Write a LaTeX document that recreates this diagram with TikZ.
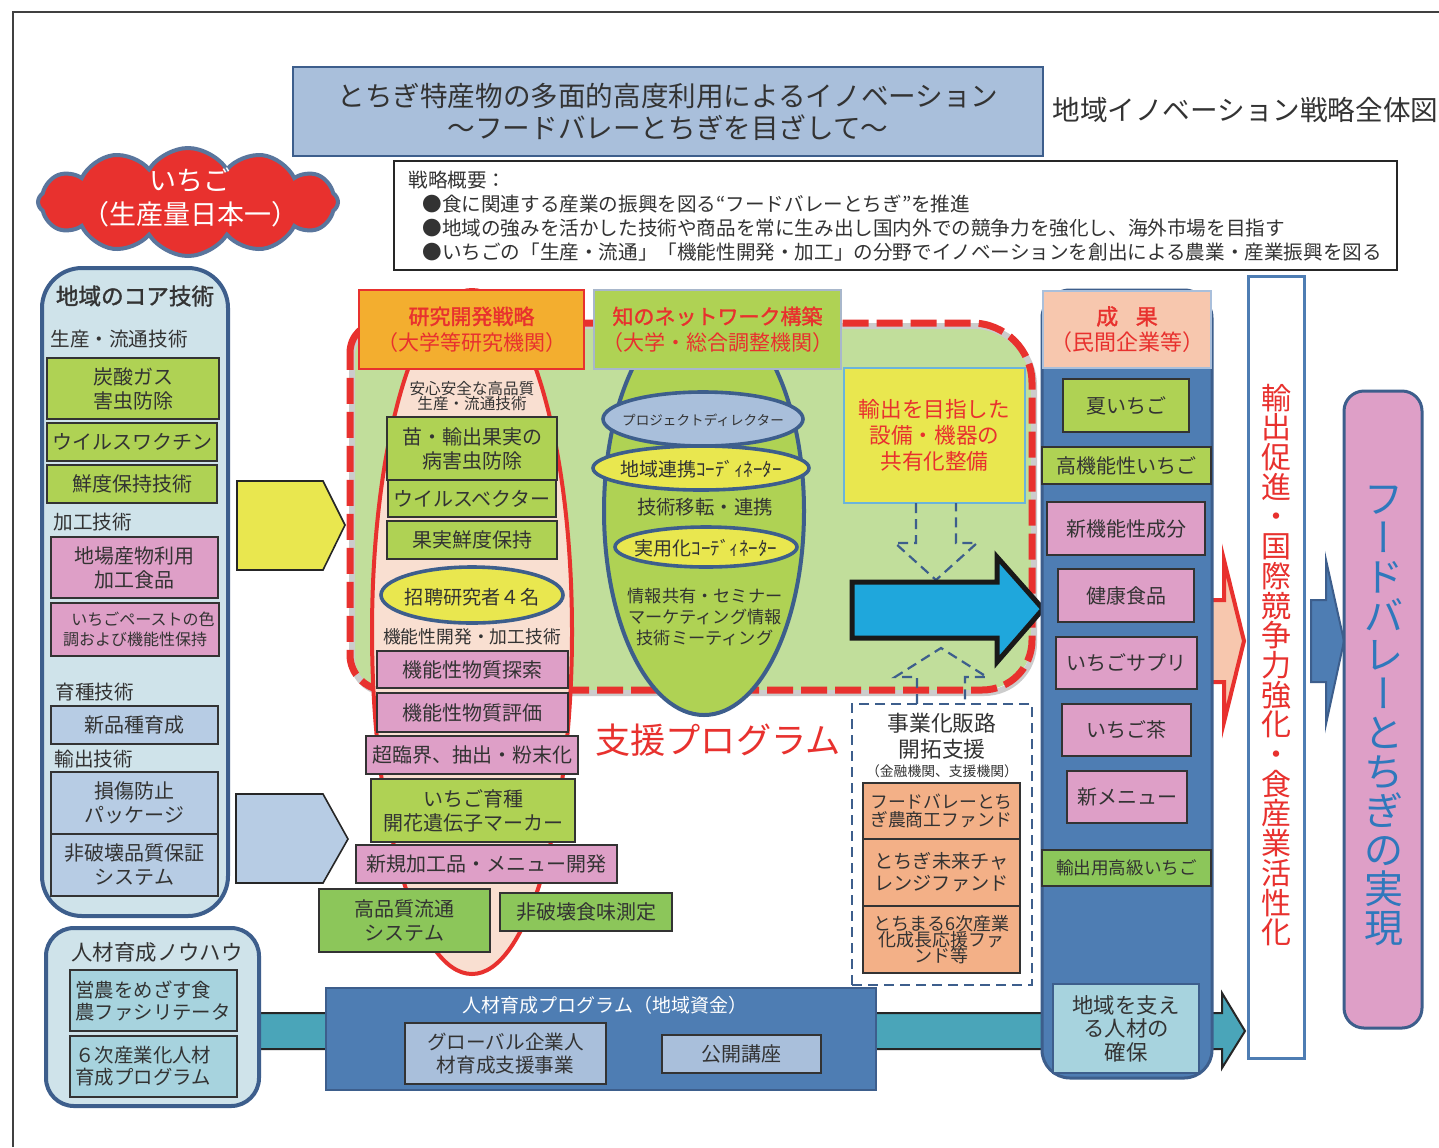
\documentclass[tikz,border=0pt]{standalone}
\usepackage{fontspec}
\setmainfont{Noto Sans CJK JP}[AutoFakeBold=1.5]
\newfontfamily\jpv{Noto Sans CJK JP}[RawFeature=+vert]
\usetikzlibrary{shapes.geometric,shapes.symbols,fit}
\newcommand\myfs[2]{\fontsize{#1}{#2}\selectfont}
\lineskiplimit=-20pt
\definecolor{dkblue}{HTML}{3D5E8C}
\definecolor{titleblue}{HTML}{A9BFDB}
\definecolor{cloudred}{HTML}{E8312E}
\definecolor{panel}{HTML}{CFE3EA}
\definecolor{lime}{HTML}{AFD254}
\definecolor{pinkc}{HTML}{DE9FC7}
\definecolor{lblue}{HTML}{B7CCE4}
\definecolor{tealL}{HTML}{A7D3DE}
\definecolor{tealB}{HTML}{4AA5B9}
\definecolor{progblue}{HTML}{4E7DB3}
\definecolor{yel}{HTML}{E9E74F}
\definecolor{orng}{HTML}{F3AE2F}
\definecolor{peach}{HTML}{F9DFD1}
\definecolor{regiong}{HTML}{C1DE9B}
\definecolor{cyanA}{HTML}{1FA7DC}
\definecolor{headpeach}{HTML}{F7C7AE}
\definecolor{salmon}{HTML}{F3B087}
\definecolor{dkgreen}{HTML}{8CC65A}
\definecolor{finalblue}{HTML}{2F78BC}
\definecolor{txtc}{HTML}{333333}
\tikzset{
 bx/.style={draw=black!80, line width=0.9pt, inner sep=0pt},
 lab/.style={inner sep=0pt, anchor=west, text=txtc, font=\myfs{9.8}{12}},
 txt/.style={inner sep=0pt, align=center, text=txtc, font=\myfs{10}{12}},
 elly/.style={ellipse, draw=dkblue, line width=1.8pt, inner sep=0pt},
 dasharrow/.style={draw=dkblue, line width=1.1pt, dash pattern=on 5pt off 3pt},
}
% #1 box options, #2 name, #3 fit points, #4 text options, #5 text
\newcommand\tbox[5]{%
  \node[bx,#1,fit={#3}] (#2) {};
  \node[txt,#4] (#2t) at (#2.center) {#5};}
\begin{document}
\begin{tikzpicture}[x=0.5pt,y=-0.5pt]
\useasboundingbox (0,0) rectangle (1439,1147);
\fill[white] (0,0) rectangle (1439,1147);
\draw[line width=0.8pt, black!75] (13,1147) -- (13,12) -- (1439,12);

% title
\tbox{draw=dkblue, line width=0.8pt, fill=titleblue}{title}{(293,67)(1043,156)}{font=\myfs{13.8}{16}}{とちぎ特産物の多面的高度利用によるイノベーション\\～フードバレーとちぎを目ざして～}
\node[txt, anchor=west, font=\myfs{13.8}{16}] (subtitle) at (1052,110) {地域イノベーション戦略全体図};

% strategy
\node[draw=black!85, line width=1pt, inner sep=0pt, fit={(394,161)(1397,270)}] (strat) {};
\node[txt, anchor=north west, align=left, font=\myfs{9.8}{11.85}] (strattext) at (408,171) {戦略概要：\\\hspace*{7pt}●食に関連する産業の振興を図る“フードバレーとちぎ”を推進\\\hspace*{7pt}●地域の強みを活かした技術や商品を常に生み出し国内外での競争力を強化し、海外市場を目指す\\\hspace*{7pt}●いちごの「生産・流通」「機能性開発・加工」の分野でイノベーションを創出による農業・産業振興を図る};

% cloud
\node[cloud, cloud puffs=12, cloud puff arc=115, aspect=2.7, draw=dkblue!85, line width=2pt, fill=cloudred, minimum width=150pt, minimum height=54pt, inner sep=0pt] (cloud) at (188,202) {};
\node[txt, text=white, font=\myfs{13.5}{17}] (cloudtxt) at (190,197) {いちご\\（生産量日本一）};

% teal band
\draw[fill=tealB, draw=black!85, line width=1pt] (250,1013) -- (1222,1013) -- (1222,993) -- (1245,1031) -- (1222,1068) -- (1222,1049) -- (250,1049) -- cycle;

% left core panel
\node[draw=dkblue, line width=2pt, fill=panel, rounded corners=20pt, inner sep=0pt, fit={(42,268)(228,916)}] (core) {};
\node[txt, font=\myfs{11.3}{13}\bfseries] (coret) at (135,296) {地域のコア技術};
\node[lab] (lprod) at (50,339) {生産・流通技術};
\tbox{fill=lime}{c1}{(47,358)(219,419)}{}{炭酸ガス\\害虫防除}
\tbox{fill=lime}{c2}{(47,423)(217,461)}{}{ウイルスワクチン}
\tbox{fill=lime}{c3}{(47,465)(217,503)}{}{鮮度保持技術}
\node[lab] (lproc) at (53,522) {加工技術};
\tbox{fill=pinkc}{c4}{(51,537)(218,598)}{}{地場産物利用\\加工食品}
\tbox{fill=pinkc}{c5}{(51,603)(219,656)}{font=\myfs{8}{10}}{\hspace*{8pt}いちごペーストの色\\調および機能性保持}
\node[lab] (lbreed) at (55,692) {育種技術};
\tbox{fill=lblue}{c6}{(51,706)(218,744)}{}{新品種育成}
\node[lab] (lexp) at (54,759) {輸出技術};
\tbox{fill=lblue}{c7}{(51,772)(218,834)}{}{損傷防止\\パッケージ}
\tbox{fill=lblue}{c8}{(51,834)(218,896)}{}{非破壊品質保証\\システム}

% pentagons
\draw[black!85, line width=0.8pt, fill=yel] (237,481) -- (323,481) -- (345,525) -- (323,570) -- (237,570) -- cycle;
\draw[black!85, line width=0.8pt, fill=lblue] (236,794) -- (323,794) -- (348,839) -- (323,883) -- (236,883) -- cycle;

% HR panel
\node[draw=dkblue, line width=2pt, fill=panel, rounded corners=14pt, inner sep=0pt, fit={(46,928)(259,1106)}] (hr) {};
\node[txt, font=\myfs{10.7}{13}] (hrt) at (157,952) {人材育成ノウハウ};
\tbox{fill=tealL}{h1}{(70,970)(237,1031)}{text width=78pt, align=left, font=\myfs{9.7}{11}}{営農をめざす食\\農ファシリテータ}
\tbox{fill=tealL}{h2}{(70,1036)(237,1097)}{text width=78pt, align=left, font=\myfs{9.7}{11}}{６次産業化人材\\育成プログラム}

% support program region
\fill[regiong] (350,353) .. controls (350,336) and (363,323) .. (380,323) -- (972,323) .. controls (1005,323) and (1032,350) .. (1032,383) -- (1032,640) .. controls (1032,668) and (1010,690) .. (982,690) -- (385,690) .. controls (366,690) and (350,674) .. (350,655) -- cycle;
\draw[gray!40, line width=3pt, shift={(2,3)}] (350,353) .. controls (350,336) and (363,323) .. (380,323) -- (972,323) .. controls (1005,323) and (1032,350) .. (1032,383) -- (1032,640) .. controls (1032,668) and (1010,690) .. (982,690) -- (385,690) .. controls (366,690) and (350,674) .. (350,655) -- cycle;
\draw[cloudred, line width=3.5pt, dash pattern=on 13pt off 4pt] (350,353) .. controls (350,336) and (363,323) .. (380,323) -- (972,323) .. controls (1005,323) and (1032,350) .. (1032,383) -- (1032,640) .. controls (1032,668) and (1010,690) .. (982,690) -- (385,690) .. controls (366,690) and (350,674) .. (350,655) -- cycle;

% big ellipses
\node[ellipse, draw=cloudred, line width=2pt, fill=peach, minimum width=100pt, minimum height=342pt, inner sep=0pt] (rell) at (472,632) {};
\node[ellipse, draw=dkblue, line width=2pt, fill=lime, minimum width=100pt, minimum height=204pt, inner sep=0pt] (nell) at (704,511) {};

% header boxes
\tbox{draw=cloudred, line width=1pt, fill=orng}{rd}{(359,290)(584,369)}{text=cloudred, font=\myfs{10.5}{13}}{\textbf{研究開発戦略}\\（大学等研究機関）}
\tbox{draw=dkblue!45, line width=1pt, fill=lime}{net}{(594,290)(841,369)}{text=cloudred, font=\myfs{10.5}{13}}{\textbf{知のネットワーク構築}\\（大学・総合調整機関）}

% network contents
\node[elly, fill=titleblue, minimum width=100pt, minimum height=27pt] (pd) at (703,419) {};
\node[txt, font=\myfs{6.8}{8}] (pdt) at (703,420) {プロジェクトディレクター};
\node[elly, fill=yel, minimum width=108pt, minimum height=22pt] (rc) at (701,468) {};
\node[txt, font=\myfs{9.5}{11}] (rct) at (701,469) {地域連携ｺｰﾃﾞｨﾈｰﾀｰ};
\node[txt, font=\myfs{9.7}{12}] (tt) at (705,507) {技術移転・連携};
\node[elly, fill=yel, minimum width=91pt, minimum height=20pt] (jc) at (706,547) {};
\node[txt, font=\myfs{9.5}{11}] (jct) at (706,548) {実用化ｺｰﾃﾞｨﾈｰﾀｰ};
\node[txt, font=\myfs{8.6}{10.5}] (info) at (705,617) {情報共有・セミナー\\マーケティング情報\\技術ミーティング};

% research contents
\node[txt, font=\myfs{7.8}{7.5}] (rtop) at (472,396) {安心安全な高品質\\生産・流通技術};
\tbox{fill=lime}{r1}{(387,417)(557,480)}{}{苗・輸出果実の\\病害虫防除}
\tbox{fill=lime}{r2}{(388,480)(556,517)}{}{ウイルスベクター}
\tbox{fill=lime}{r3}{(387,521)(557,559)}{}{果実鮮度保持}
\node[elly, fill=yel, minimum width=91pt, minimum height=28pt] (inv) at (472,595) {};
\node[txt, font=\myfs{9.6}{11}] (invt) at (472,597) {招聘研究者４名};
\node[txt, font=\myfs{8.9}{10}] (rfun) at (472,637) {機能性開発・加工技術};
\tbox{fill=pinkc}{r4}{(377,651)(568,688)}{}{機能性物質探索}
\tbox{fill=pinkc}{r5}{(377,693)(568,732)}{}{機能性物質評価}
\tbox{fill=pinkc}{r6}{(366,736)(578,774)}{}{超臨界、抽出・粉末化}
\tbox{fill=lime}{r7}{(371,779)(575,842)}{}{いちご育種\\開花遺伝子マーカー}
\tbox{fill=pinkc}{r8}{(356,845)(617,883)}{}{新規加工品・メニュー開発}
\tbox{fill=dkgreen}{r9}{(319,889)(490,952)}{}{高品質流通\\システム}
\tbox{fill=dkgreen}{r10}{(500,893)(672,931)}{}{非破壊食味測定}

\node[txt, text=cloudred, font=\myfs{17.6}{20}] (shien) at (718,740) {支援プログラム};

% yellow box
\tbox{draw=cyanA!45!titleblue, line width=1pt, fill=yel}{ybox}{(844,368)(1025,503)}{text=cloudred, font=\myfs{10.8}{13}}{輸出を目指した\\設備・機器の\\共有化整備}

% dashed hollow arrows
\draw[dasharrow] (916,503) -- (916,543) -- (895,543) -- (936,580) -- (977,543) -- (956,543) -- (956,503);
\draw[dasharrow] (917,704) -- (917,677) -- (895,677) -- (941,648) -- (987,677) -- (965,677) -- (965,704);

% big blue arrow
\draw[fill=cyanA, draw=black!90, line width=2.5pt] (852,582) -- (997,582) -- (997,557) -- (1043,609) -- (997,662) -- (997,638) -- (852,638) -- cycle;

% business support box
\node[draw=dkblue, line width=1.1pt, dash pattern=on 5pt off 3pt, fill=white, inner sep=0pt, fit={(852,704)(1032,985)}] (biz) {};
\node[txt, font=\myfs{10.9}{13}] (bizt) at (942,736) {事業化販路\\開拓支援};
\node[txt, font=\myfs{6.9}{8}] (bizs) at (942,771) {（金融機関、支援機関）};
\tbox{fill=salmon}{f1}{(863,783)(1020,839)}{font=\myfs{8.9}{9}}{フードバレーとち\\ぎ農商工ファンド}
\tbox{fill=salmon}{f2}{(863,839)(1020,906)}{font=\myfs{9.6}{11}}{とちぎ未来チャ\\レンジファンド}
\tbox{fill=salmon}{f3}{(863,906)(1020,973)}{font=\myfs{9}{8}}{とちまる6次産業\\化成長応援ファ\\ンド等}

% program box
\node[draw=dkblue, line width=1.2pt, fill=progblue, inner sep=0pt, fit={(326,988)(876,1090)}] (prog) {};
\node[txt, text=white, font=\myfs{9.5}{12}] (progt) at (605,1005) {人材育成プログラム（地域資金）};
\tbox{fill=titleblue}{p1}{(405,1023)(606,1084)}{font=\myfs{9.8}{11.5}}{グローバル企業人\\材育成支援事業}
\tbox{fill=titleblue}{p2}{(662,1035)(821,1073)}{}{公開講座}

% red hollow arrow
\draw[fill=headpeach, draw=cloudred, line width=2pt] (1200,600) -- (1224,600) -- (1224,560) -- (1244,641) -- (1224,722) -- (1224,682) -- (1200,682) -- cycle;

% result column
\node[draw=dkblue, line width=1.5pt, fill=progblue, rounded corners=14pt, inner sep=0pt, fit={(1042,290)(1212,1078)}] (res) {};
\tbox{draw=titleblue, line width=1pt, fill=headpeach}{reshead}{(1043,291)(1211,368)}{text=cloudred, font=\myfs{11}{13}}{\textbf{成\hspace{0.8em}果}\\（民間企業等）}
\tbox{fill=lime}{o1}{(1063,379)(1189,432)}{}{夏いちご}
\tbox{fill=lime}{o2}{(1042,447)(1211,484)}{}{高機能性いちご}
\tbox{fill=pinkc}{o3}{(1047,502)(1205,555)}{}{新機能性成分}
\tbox{fill=pinkc}{o4}{(1058,569)(1194,622)}{}{健康食品}
\tbox{fill=pinkc}{o5}{(1056,637)(1197,689)}{}{いちごサプリ}
\tbox{fill=pinkc}{o6}{(1062,704)(1191,756)}{}{いちご茶}
\tbox{fill=pinkc}{o7}{(1067,771)(1187,823)}{}{新メニュー}
\tbox{fill=dkgreen}{o8}{(1042,850)(1211,886)}{font=\myfs{8.8}{10}}{輸出用高級いちご}
\tbox{draw=dkblue, fill=tealL}{o9}{(1053,984)(1199,1073)}{font=\myfs{10.7}{11.75}}{地域を支え\\る人材の\\確保}

% export box
\node[draw=progblue, line width=1.5pt, fill=white, inner sep=0pt, fit={(1248,276)(1304,1058)}] (exp) {};
\node[txt, text=cloudred, font=\myfs{15}{14.85}] (expt) at (1276,665) {輸\\出\\促\\進\\・\\国\\際\\競\\争\\力\\強\\化\\・\\食\\産\\業\\活\\性\\化};

% blue arrow
\draw[fill=progblue, draw=dkblue, line width=1pt] (1311,600) -- (1326,600) -- (1326,560) -- (1344,641) -- (1326,724) -- (1326,682) -- (1311,682) -- cycle;

% final box
\node[draw=dkblue, line width=1.5pt, fill=pinkc, rounded corners=10pt, inner sep=0pt, fit={(1344,391)(1422,1028)}] (final) {};
\node[txt, text=finalblue, font=\myfs{19.5}{19.5}] (finalt) at (1384,716) {フ\\{\jpv ー}\\ド\\バ\\レ\\{\jpv ー}\\と\\ち\\ぎ\\の\\実\\現};
\end{tikzpicture}
\end{document}
